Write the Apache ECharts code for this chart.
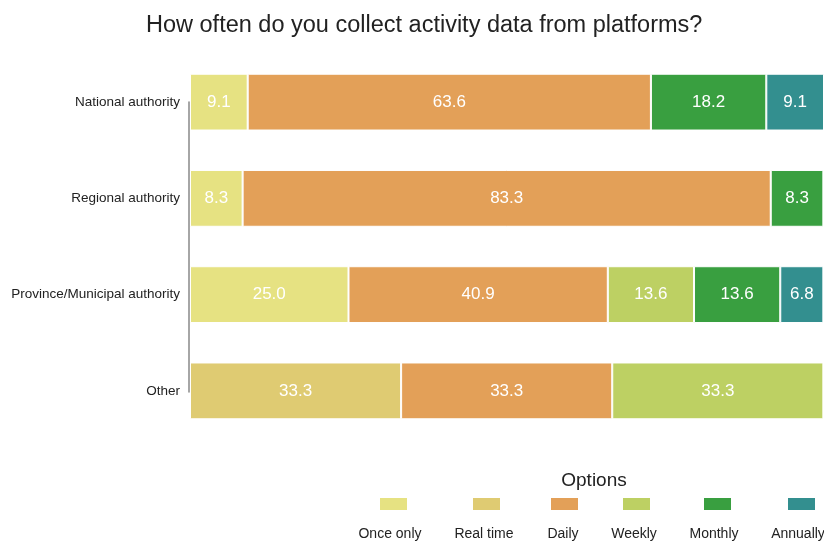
<!DOCTYPE html>
<html><head><meta charset="utf-8">
<script src="https://cdn.jsdelivr.net/npm/echarts@6/dist/echarts.min.js"></script>
<style>html,body{margin:0;padding:0;background:#fff}#c{width:824px;height:544px}</style>
</head><body><div id="c"></div>
<script>
const categories = ['National authority', 'Regional authority', 'Province/Municipal authority', 'Other'];
const optionNames = ['Once only', 'Real time', 'Daily', 'Weekly', 'Monthly', 'Annually'];
const onceOnly = [9.1, 8.3, 25.0, null];
const realTime = [null, null, null, 33.3];
const daily = [63.6, 83.3, 40.9, 33.3];
const weekly = [null, null, 13.6, 33.3];
const monthly = [18.2, 8.3, 13.6, null];
const annually = [9.1, null, 6.8, null];
const seriesValues = [onceOnly, realTime, daily, weekly, monthly, annually];
const colors = ['#E6E282', '#DFCB72', '#E3A058', '#BDD063', '#399F40', '#338F8F'];

const FONT = '"Liberation Sans Narrow", "Liberation Sans", Arial, sans-serif';
const chart = echarts.init(document.getElementById('c'));

const legendX = [378, 471, 549, 621, 702, 786];
const legends = optionNames.map((n, i) => ({
  data: [n], left: legendX[i], top: 496, itemWidth: 29, itemHeight: 14,
  icon: 'rect', formatter: () => '', itemGap: 0, padding: 0, selectedMode: false
}));
const labelCenters = [390, 484, 563, 634, 714, 798];
const graphics = optionNames.map((n, i) => ({
  type: 'text', x: labelCenters[i], y: 527,
  style: { text: n, font: '14px ' + FONT, fill: '#222', textAlign: 'center' }
}));
graphics.push({ type: 'text', x: 594, y: 471, style: { text: 'Options', font: '19px ' + FONT, fill: '#222', textAlign: 'center' } });

chart.setOption({
  animation: false,
  title: { text: 'How often do you collect activity data from platforms?', left: 141, top: 9,
    textStyle: { fontFamily: FONT, fontSize: 23.5, fontWeight: 'normal', color: '#222' } },
  legend: legends,
  graphic: graphics,
  grid: [
    { left: 190, right: 0, top: 54, bottom: 105 },
    { left: 189, width: 1, top: 102, height: 290 }
  ],
  xAxis: [
    { type: 'value', min: 0, max: 100, show: false, gridIndex: 0 },
    { type: 'value', show: false, gridIndex: 1 }
  ],
  yAxis: [
    { type: 'category', data: categories, inverse: true, gridIndex: 0,
      axisLine: { show: false }, axisTick: { show: false },
      axisLabel: { fontFamily: FONT, fontSize: 13.5, color: '#222', margin: 10 } },
    { type: 'category', data: ['a', 'b'], gridIndex: 1, boundaryGap: false,
      axisLine: { show: true, lineStyle: { color: '#888', width: 1.5 } },
      axisTick: { show: false }, axisLabel: { show: false } }
  ],
  series: optionNames.map((n, i) => ({
    name: n, type: 'bar', stack: 'total', data: seriesValues[i], barCategoryGap: '41%',
    xAxisIndex: 0, yAxisIndex: 0,
    itemStyle: { color: colors[i], borderColor: '#fff', borderWidth: 1 },
    label: { show: true, position: 'inside', color: '#fff', fontFamily: FONT, fontSize: 17,
      formatter: p => p.value == null ? '' : Number(p.value).toFixed(1) }
  }))
});
</script></body></html>
